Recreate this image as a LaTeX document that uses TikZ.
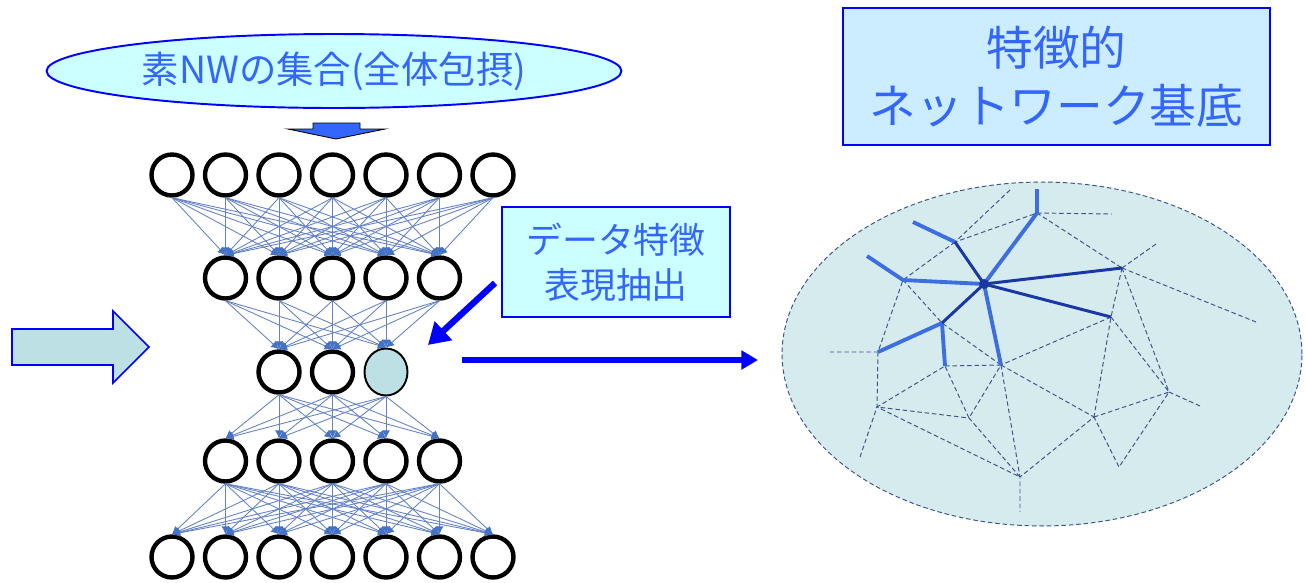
\documentclass[tikz,border=0pt]{standalone}
\usepackage{fontspec}
\newfontfamily\jpfont{Noto Sans CJK JP}
\usetikzlibrary{arrows.meta,shapes.geometric}
\definecolor{txtblue}{RGB}{51,102,255}
\definecolor{boxcyan}{RGB}{204,255,255}
\definecolor{boxsky}{RGB}{204,236,255}
\definecolor{arrowteal}{RGB}{189,224,228}
\definecolor{netfill}{RGB}{214,235,238}
\definecolor{linkblue}{RGB}{100,130,200}
\definecolor{headblue}{RGB}{68,114,196}
\definecolor{darkedge}{RGB}{25,55,165}
\definecolor{lightedge}{RGB}{60,110,225}
\definecolor{dashcol}{RGB}{60,85,140}
\definecolor{pureblue}{RGB}{0,0,255}
\tikzset{
  unit/.style={circle,draw=black,line width=2.5pt,minimum size=0.82cm,inner sep=0pt},
  link/.style={draw=linkblue,line width=0.5pt,-{Latex[length=4.5pt,width=4.5pt,color=headblue]}},
  netdash/.style={draw=dashcol,line width=0.55pt,dash pattern=on 2.6pt off 1.6pt},
  strong/.style={draw=darkedge,line width=1.7pt},
  weak/.style={draw=lightedge,line width=2.2pt},
  label box/.style={draw=pureblue,line width=1.1pt,align=center,text=txtblue,inner sep=0pt}
}
\begin{document}
\begin{tikzpicture}[x=0.02cm,y=-0.02cm]
\useasboundingbox (0,0) rectangle (1306,582);
% input set and its arrow
\node[label box,ellipse,fill=boxcyan,minimum width=11.5cm,minimum height=1.48cm,font=\jpfont\fontsize{21.3}{25}\selectfont] (nwset) at (334,71) {素NWの集合(全体包摂)};
\draw[fill=txtblue,draw=black,line width=0.5pt] (313,123)--(360,123)--(360,129)--(385,129)--(336,139)--(288,129)--(313,129)--cycle;
% layers of the network
\foreach \i in {1,...,7} {\node[unit] (L1-\i) at ({118.5+53.5*\i},175) {}; \node[unit] (L5-\i) at ({118.5+53.5*\i},557) {};}
\foreach \i in {1,...,5} {\node[unit] (L2-\i) at ({172+53.5*\i},278) {}; \node[unit] (L4-\i) at ({172+53.5*\i},461) {};}
\foreach \i in {1,2} \node[unit] (L3-\i) at ({225.5+53.5*\i},372) {};
\node[ellipse,draw=black,line width=1.1pt,fill=arrowteal,minimum width=0.86cm,minimum height=0.94cm,inner sep=0pt] (L3-3) at (386,372) {};
\foreach \i in {1,...,7} {\foreach \j in {1,...,5} {\draw[link] (L1-\i.south) -- (L2-\j.north); \draw[link] (L4-\j.south) -- (L5-\i.north);}}
\foreach \i in {1,...,5} {\foreach \j in {1,2,3} {\draw[link] (L2-\i.south) -- (L3-\j.north); \draw[link] (L3-\j.south) -- (L4-\i.north);}}
% input arrow on the left
\draw[fill=arrowteal,draw=pureblue,line width=0.9pt] (12,329)--(113,329)--(113,311)--(149,347)--(113,383)--(113,365)--(12,365)--cycle;
% feature extraction
\node[label box,fill=boxcyan,minimum width=4.56cm,minimum height=2.2cm,font=\jpfont\fontsize{20.4}{25.5}\selectfont] (extract) at (616,262) {データ特徴\\表現抽出};
\coordinate (ds) at (495,283); \coordinate (de) at (428,345);
\draw[pureblue,line width=3.6pt,-{Triangle[length=12pt,width=14pt]}] (ds) -- (de);
\coordinate (hs) at (462,360); \coordinate (he) at (758,360);
\draw[pureblue,line width=3pt,-{Triangle[length=9.5pt,width=10.5pt]}] (hs) -- (he);
\node[label box,fill=boxsky,minimum width=8.54cm,minimum height=2.74cm,font=\jpfont\fontsize{26.6}{32.9}\selectfont] (basis) at (1056.5,76.5) {特徴的\\ネットワーク基底};
% characteristic network
\draw[netdash,fill=netfill] (1042,354) ellipse [x radius=5.2cm,y radius=3.44cm];
\coordinate (H) at (984,284); \coordinate (A) at (1037,189); \coordinate (B) at (1037,213); \coordinate (C) at (1112,214); \coordinate (D) at (1010,190);
\coordinate (E) at (955,242); \coordinate (F) at (913,222); \coordinate (G) at (903,280); \coordinate (Hh) at (867,256);
\coordinate (I) at (1122,268); \coordinate (I1) at (1156,244); \coordinate (I2) at (1256,322); \coordinate (J) at (1111,317);
\coordinate (K) at (942,323); \coordinate (L) at (878,352); \coordinate (L1) at (830,352); \coordinate (M) at (945,366); \coordinate (N) at (1001,365);
\coordinate (P) at (877,407); \coordinate (P1) at (860,457); \coordinate (Q) at (969,418); \coordinate (R) at (1020,477); \coordinate (R1) at (1020,512);
\coordinate (S) at (1094,417); \coordinate (T) at (1169,392); \coordinate (T1) at (1200,406); \coordinate (U) at (1119,467);
\draw[netdash] (B)--(C); \draw[netdash] (D)--(E)--(B)--(I); \draw[netdash] (E)--(G)--(L)--(L1); \draw[netdash] (G)--(K)--(N);
\draw[netdash] (I)--(I1); \draw[netdash] (I)--(I2); \draw[netdash] (I)--(J)--(S); \draw[netdash] (I)--(T); \draw[netdash] (J)--(T); \draw[netdash] (J)--(N);
\draw[netdash] (L)--(P)--(P1); \draw[netdash] (M)--(N)--(Q)--(M)--(P)--(Q)--(R)--(P); \draw[netdash] (N)--(R)--(R1);
\draw[netdash] (N)--(S)--(R); \draw[netdash] (S)--(T)--(U)--(S); \draw[netdash] (T)--(T1);
\draw[weak] (H)--(B)--(A); \draw[weak] (E)--(F); \draw[weak] (H)--(G)--(Hh); \draw[weak] (K)--(L); \draw[weak] (K)--(M); \draw[weak] (H)--(N);
\draw[strong] (H)--(E); \draw[strong] (H)--(I); \draw[strong] (H)--(J); \draw[strong] (H)--(K);
\fill[darkedge] (H) circle [radius=0.1cm];
\end{tikzpicture}
\end{document}
